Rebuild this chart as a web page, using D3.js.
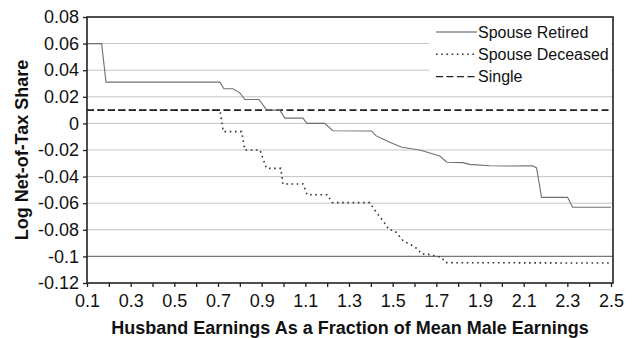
<!DOCTYPE html>
<html>
<head>
<meta charset="utf-8">
<script src="https://cdn.jsdelivr.net/npm/d3@7/dist/d3.min.js"></script>
<style>
  html, body { margin: 0; padding: 0; background: #fff; }
  svg { display: block; font-family: "Liberation Sans", Arial, Helvetica, sans-serif; }
</style>
</head>
<body>
<svg id="chart" width="638" height="338"></svg>
<script>
// Earnings as a fraction of mean male earnings, and log net-of-tax share by status
const spouseRetiredX = [0.1, 0.167, 0.187, 0.709, 0.727, 0.768, 0.800, 0.809, 0.823, 0.887, 0.924, 0.983, 1.006, 1.089, 1.107, 1.189, 1.226, 1.404, 1.423, 1.455, 1.487, 1.542, 1.624, 1.716, 1.748, 1.821, 1.853, 1.944, 2.022, 2.141, 2.159, 2.182, 2.301, 2.324, 2.5];
const spouseRetiredY = [0.060, 0.060, 0.031, 0.031, 0.026, 0.026, 0.023, 0.021, 0.018, 0.018, 0.010, 0.010, 0.004, 0.004, 0.000, 0.000, -0.0055, -0.0057, -0.0092, -0.0117, -0.0142, -0.018, -0.020, -0.0245, -0.0292, -0.0295, -0.0308, -0.0318, -0.032, -0.0318, -0.0335, -0.0556, -0.0556, -0.0631, -0.0631];

const spouseDeceasedX = [0.1, 0.709, 0.724, 0.808, 0.823, 0.892, 0.922, 0.988, 0.997, 1.090, 1.108, 1.200, 1.224, 1.395, 1.423, 1.464, 1.484, 1.510, 1.548, 1.594, 1.616, 1.632, 1.662, 1.723, 1.743, 2.5];
const spouseDeceasedY = [0.010, 0.010, -0.0062, -0.0062, -0.020, -0.020, -0.0338, -0.0338, -0.0456, -0.0456, -0.0536, -0.0536, -0.0596, -0.0596, -0.0664, -0.0751, -0.080, -0.0807, -0.0882, -0.0922, -0.0947, -0.0982, -0.0984, -0.1007, -0.1047, -0.105];

const singleX = [0.1, 2.5];
const singleY = [0.010, 0.010];

const xTickValues = [0.1, 0.3, 0.5, 0.7, 0.9, 1.1, 1.3, 1.5, 1.7, 1.9, 2.1, 2.3, 2.5];
const xMinorTicks = d3.range(1, 26).map(i => i / 10);
const yTickValues = [0.08, 0.06, 0.04, 0.02, 0, -0.02, -0.04, -0.06, -0.08, -0.1, -0.12];

const seriesNames = ["Spouse Retired", "Spouse Deceased", "Single"];

const svg = d3.select("#chart");
const plotLeft = 87, plotRight = 613, plotTop = 17, plotBottom = 283;

const x = d3.scaleLinear().domain([0.1, 2.5]).range([plotLeft, 611]);
const y = d3.scaleLinear().domain([-0.12, 0.08]).range([plotBottom, plotTop]);

// horizontal gridlines
svg.append("g").selectAll("line")
  .data(yTickValues.filter(v => v > -0.12 && v < 0.08))
  .join("line")
  .attr("x1", plotLeft).attr("x2", plotRight)
  .attr("y1", d => y(d)).attr("y2", d => y(d))
  .attr("stroke", d => Math.abs(d + 0.1) < 1e-9 ? "#777" : "#c4c4c4")
  .attr("stroke-width", d => Math.abs(d + 0.1) < 1e-9 ? 1.4 : 1);

// legend background blanks the gridlines behind it
svg.append("rect")
  .attr("x", 429).attr("y", 21).attr("width", 182).attr("height", 66)
  .attr("fill", "#fff");

const toPoints = (xs, ys) => xs.map((v, i) => [v, ys[i]]);
const line = d3.line().x(d => x(d[0])).y(d => y(d[1]));

// Spouse Deceased (dotted)
svg.append("path")
  .datum(toPoints(spouseDeceasedX, spouseDeceasedY))
  .attr("d", line)
  .attr("fill", "none")
  .attr("stroke", "#333")
  .attr("stroke-width", 1.6)
  .attr("stroke-dasharray", "1.6,3.6");

// Single (dashed)
svg.append("path")
  .datum(toPoints(singleX, singleY))
  .attr("d", line)
  .attr("fill", "none")
  .attr("stroke", "#222")
  .attr("stroke-width", 1.6)
  .attr("stroke-dasharray", "7,3.5");

// Spouse Retired (solid)
svg.append("path")
  .datum(toPoints(spouseRetiredX, spouseRetiredY))
  .attr("d", line)
  .attr("fill", "none")
  .attr("stroke", "#707070")
  .attr("stroke-width", 1.1);

// plot frame
svg.append("rect")
  .attr("x", plotLeft).attr("y", plotTop)
  .attr("width", plotRight - plotLeft).attr("height", plotBottom - plotTop)
  .attr("fill", "none").attr("stroke", "#222").attr("stroke-width", 1.6);

// y axis
const yAxis = svg.append("g")
  .attr("transform", `translate(${plotLeft},0)`)
  .call(d3.axisLeft(y).tickValues(yTickValues)
    .tickFormat(d => d === 0 ? "0" : String(+d.toFixed(2)))
    .tickSize(4).tickPadding(4));
yAxis.select(".domain").remove();
yAxis.selectAll(".tick line").attr("stroke", "#222").attr("stroke-width", 1.3);
yAxis.selectAll(".tick text")
  .attr("font-size", 18).attr("fill", "#111")
  .attr("font-family", "'Liberation Sans', Arial, sans-serif");

// x axis: minor ticks every 0.1, labels every 0.2
const xAxis = svg.append("g")
  .attr("transform", `translate(0,${plotBottom})`)
  .call(d3.axisBottom(x).tickValues(xMinorTicks).tickSize(4)
    .tickFormat(d => xTickValues.some(v => Math.abs(v - d) < 1e-9) ? d3.format(".1f")(d) : "")
    .tickPadding(7));
xAxis.select(".domain").remove();
xAxis.selectAll(".tick line").attr("stroke", "#222").attr("stroke-width", 1.3);
xAxis.selectAll(".tick text")
  .attr("font-size", 18).attr("fill", "#111")
  .attr("font-family", "'Liberation Sans', Arial, sans-serif");

// axis titles
svg.append("text")
  .attr("x", 350).attr("y", 334)
  .attr("text-anchor", "middle")
  .attr("font-size", 18).attr("font-weight", "bold").attr("fill", "#111")
  .text("Husband Earnings As a Fraction of Mean Male Earnings");

svg.append("text")
  .attr("transform", "translate(28,150) rotate(-90)")
  .attr("text-anchor", "middle")
  .attr("font-size", 18).attr("font-weight", "bold").attr("fill", "#111")
  .text("Log Net-of-Tax Share");

// legend
const legendStyles = [
  { dash: null, color: "#555", width: 1.2 },
  { dash: "1.6,3.6", color: "#333", width: 1.4 },
  { dash: "7,3.5", color: "#222", width: 1.4 }
];
const legend = svg.append("g");
seriesNames.forEach((name, i) => {
  const yy = 32 + i * 22.3;
  legend.append("line")
    .attr("x1", 436).attr("x2", 477)
    .attr("y1", yy).attr("y2", yy)
    .attr("stroke", legendStyles[i].color)
    .attr("stroke-width", legendStyles[i].width)
    .attr("stroke-dasharray", legendStyles[i].dash);
  legend.append("text")
    .attr("x", 478).attr("y", yy + 5.6)
    .attr("font-size", 16).attr("fill", "#111")
    .text(name);
});
</script>
</body>
</html>
